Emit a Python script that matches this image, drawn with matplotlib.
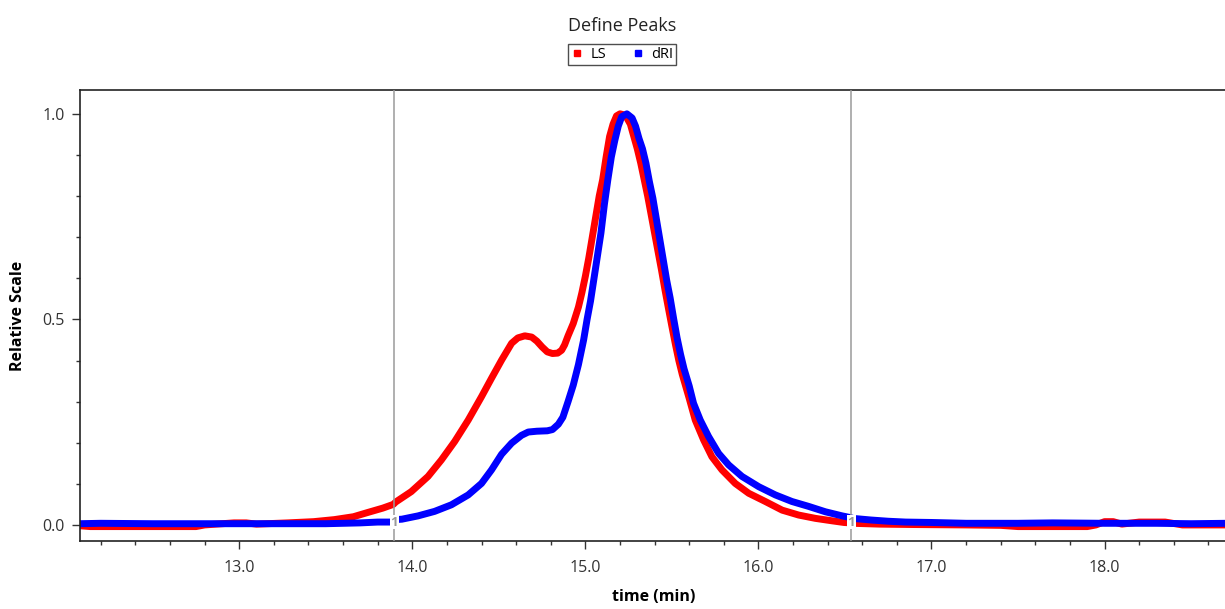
import matplotlib
matplotlib.use("Agg")
import matplotlib.pyplot as plt
from matplotlib.lines import Line2D
from matplotlib.ticker import MultipleLocator, FormatStrFormatter

plt.rcParams['font.family'] = ['Open Sans', 'DejaVu Sans']

# LS detector trace (time in min, relative scale)
ls_time = [12.08, 12.14, 12.75, 12.80, 12.97, 13.04, 13.10, 13.28, 13.43, 13.55,
           13.66, 13.74, 13.83, 13.89, 13.905, 13.994, 14.091, 14.168, 14.245, 14.323,
           14.400, 14.458, 14.516, 14.574, 14.61, 14.65, 14.69, 14.72, 14.75, 14.78,
           14.81, 14.84, 14.863, 14.88, 14.90, 14.93, 14.96, 14.98, 15.00, 15.02,
           15.04, 15.06, 15.08, 15.10, 15.12, 15.14, 15.16, 15.18, 15.20, 15.22,
           15.24, 15.26, 15.28, 15.30, 15.32, 15.34, 15.36, 15.38, 15.40, 15.42,
           15.44, 15.46, 15.48, 15.50, 15.52, 15.54, 15.56, 15.60, 15.635, 15.683,
           15.731, 15.789, 15.866, 15.944, 16.040, 16.137, 16.233, 16.329, 16.426, 16.494,
           16.530, 16.545, 16.70, 16.90, 17.20, 17.40, 17.50, 17.90, 17.95, 18.00,
           18.05, 18.10, 18.20, 18.35, 18.45, 18.71]
ls_value = [-0.002, -0.004, -0.004, 0.000, 0.005, 0.005, 0.002, 0.005, 0.008, 0.013,
            0.020, 0.030, 0.041, 0.050, 0.056, 0.081, 0.118, 0.158, 0.203, 0.255,
            0.312, 0.357, 0.401, 0.442, 0.455, 0.460, 0.457, 0.447, 0.433, 0.421,
            0.417, 0.418, 0.425, 0.438, 0.460, 0.490, 0.530, 0.565, 0.605, 0.650,
            0.700, 0.750, 0.800, 0.840, 0.895, 0.945, 0.975, 0.995, 1.000, 0.998,
            0.990, 0.975, 0.945, 0.915, 0.880, 0.840, 0.800, 0.755, 0.710, 0.665,
            0.620, 0.572, 0.527, 0.483, 0.440, 0.400, 0.366, 0.308, 0.255, 0.207,
            0.166, 0.134, 0.101, 0.077, 0.057, 0.036, 0.024, 0.016, 0.010, 0.006,
            0.005, 0.004, 0.002, 0.001, 0.000, -0.001, -0.004, -0.004, 0.000, 0.008,
            0.008, 0.002, 0.007, 0.007, 0.000, 0.000]

# dRI detector trace
dri_time = [12.08, 12.20, 12.50, 13.00, 13.50, 13.70, 13.80, 13.89, 13.905, 13.94,
            14.033, 14.129, 14.226, 14.323, 14.400, 14.458, 14.516, 14.574, 14.631, 14.67,
            14.72, 14.78, 14.81, 14.844, 14.87, 14.90, 14.93, 14.96, 14.99, 15.01,
            15.03, 15.05, 15.07, 15.09, 15.11, 15.13, 15.15, 15.17, 15.19, 15.21,
            15.24, 15.27, 15.29, 15.31, 15.33, 15.35, 15.37, 15.39, 15.41, 15.43,
            15.45, 15.47, 15.49, 15.51, 15.53, 15.55, 15.57, 15.60, 15.625, 15.664,
            15.712, 15.770, 15.828, 15.905, 16.002, 16.098, 16.194, 16.291, 16.387, 16.484,
            16.530, 16.545, 16.65, 16.75, 16.85, 17.00, 17.20, 17.50, 17.70, 18.00,
            18.30, 18.50, 18.71]
dri_value = [0.003, 0.004, 0.003, 0.003, 0.003, 0.005, 0.007, 0.007, 0.013, 0.014,
             0.022, 0.033, 0.049, 0.073, 0.101, 0.134, 0.172, 0.199, 0.218, 0.226,
             0.228, 0.229, 0.232, 0.245, 0.262, 0.300, 0.340, 0.390, 0.450, 0.500,
             0.545, 0.600, 0.655, 0.710, 0.780, 0.840, 0.895, 0.935, 0.970, 0.993,
             1.000, 0.990, 0.970, 0.940, 0.915, 0.880, 0.835, 0.795, 0.745, 0.695,
             0.645, 0.595, 0.552, 0.502, 0.455, 0.415, 0.380, 0.338, 0.296, 0.255,
             0.215, 0.174, 0.146, 0.118, 0.093, 0.073, 0.057, 0.045, 0.032, 0.022,
             0.018, 0.016, 0.012, 0.009, 0.007, 0.006, 0.004, 0.004, 0.005, 0.004,
             0.004, 0.003, 0.004]

# peak limits
peak_limits = [13.896, 16.536]

fig = plt.figure(figsize=(12.25, 6.09), dpi=100)
ax = fig.add_axes([0.0653, 0.1117, 0.9367, 0.7405])

ax.plot(ls_time, ls_value, color="#ff0000", lw=5, zorder=2)
ax.plot(dri_time, dri_value, color="#0000ff", lw=5, zorder=2.1)

for t in peak_limits:
    ax.axvline(t, color="#9a9a9a", lw=1.1, zorder=3)
    ax.text(t, 0.007, "1", color="#9a9a9a", fontsize=9.5, fontweight="bold",
            ha="center", va="center", zorder=4,
            bbox=dict(facecolor="white", edgecolor="none", pad=0.6))

ax.set_xlim(12.08, 18.71)
ax.set_ylim(-0.039, 1.058)
ax.xaxis.set_major_locator(MultipleLocator(1.0))
ax.xaxis.set_minor_locator(MultipleLocator(0.2))
ax.yaxis.set_major_locator(MultipleLocator(0.5))
ax.yaxis.set_minor_locator(MultipleLocator(0.1))
ax.xaxis.set_major_formatter(FormatStrFormatter("%.1f"))
ax.yaxis.set_major_formatter(FormatStrFormatter("%.1f"))
ax.tick_params(which="major", length=6, width=1, color="#333333", labelsize=11.5,
               labelcolor="#333333", pad=5)
ax.tick_params(axis="x", which="major", pad=8)
ax.tick_params(which="minor", length=3, width=1, color="#333333")
for side in ["left", "bottom", "top"]:
    ax.spines[side].set_linewidth(1.2)
    ax.spines[side].set_color("#222222")
ax.spines["right"].set_visible(False)

ax.set_xlabel("time (min)", fontsize=11.5, fontweight="bold", labelpad=9)
ax.set_ylabel("Relative Scale", fontsize=11.5, fontweight="bold", labelpad=12)

fig.text(0.508, 0.957, "Define Peaks", ha="center", va="center", fontsize=13, color="#222222")
handles = [Line2D([], [], color="#ff0000", marker="s", ls="none", markersize=5),
           Line2D([], [], color="#0000ff", marker="s", ls="none", markersize=5)]
leg = fig.legend(handles, ["LS", "dRI"], loc="center", bbox_to_anchor=(0.508, 0.910),
                 ncol=2, fontsize=10.5, frameon=True, fancybox=False, handlelength=0.8,
                 handletextpad=0.5, columnspacing=1.8, borderpad=0.2, edgecolor="#222222")
leg.get_frame().set_linewidth(1.0)

fig.savefig("out.png", dpi=100)
